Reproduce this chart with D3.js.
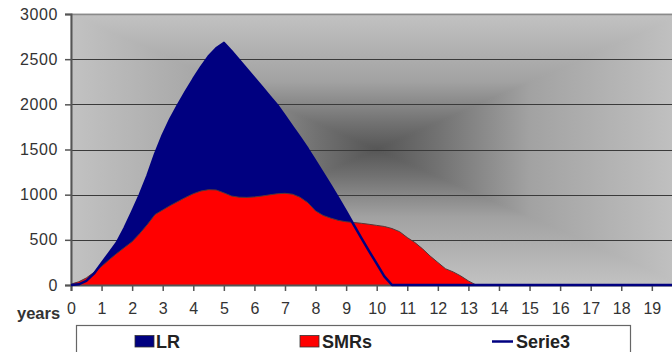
<!DOCTYPE html>
<html>
<head>
<meta charset="utf-8">
<script src="https://cdn.jsdelivr.net/npm/d3@7"></script>
<style>
  html, body { margin: 0; padding: 0; background: #ffffff; }
  svg { display: block; font-family: "Liberation Sans", Arial, sans-serif; }
</style>
</head>
<body>
<svg id="chart" width="672" height="352"></svg>
<script>
// Time in years for every data point
const years = [
  0, 0.25, 0.5, 0.75, 1, 1.25, 1.5, 1.75, 2, 2.25, 2.5, 2.75, 3, 3.25, 3.5, 3.75,
  4, 4.25, 4.5, 4.75, 5, 5.25, 5.5, 5.75, 6, 6.25, 6.5, 6.75, 7, 7.25, 7.5, 7.75,
  8, 8.25, 8.5, 8.75, 9, 9.25, 9.5, 9.75, 10, 10.25, 10.5, 10.75, 11, 11.25, 11.5, 11.75,
  12, 12.25, 12.5, 12.75, 13, 13.25, 13.5, 14, 15, 16, 17, 18, 19, 20];

// LR series (area, navy)
const lr = [
  0, 8, 45, 125, 240, 355, 470, 630, 810, 1000, 1210, 1450, 1660, 1840, 1995, 2140,
  2280, 2410, 2530, 2620, 2680, 2590, 2490, 2390, 2290, 2190, 2090, 1990, 1870, 1750, 1630, 1505,
  1370, 1235, 1100, 960, 815, 665, 520, 375, 236, 95, 0, 0, 0, 0, 0, 0,
  0, 0, 0, 0, 0, 0, 0, 0, 0, 0, 0, 0, 0, 0];

// SMRs series (area, red)
const smrs = [
  10, 35, 78, 140, 205, 280, 350, 415, 480, 570, 670, 780, 830, 880, 925, 970,
  1010, 1040, 1055, 1052, 1020, 985, 972, 970, 975, 985, 998, 1010, 1015, 1005, 970, 910,
  820, 770, 740, 715, 700, 692, 683, 672, 660, 648, 625, 590, 525, 470, 400, 320,
  250, 180, 145, 100, 45, 0, 0, 0, 0, 0, 0, 0, 0, 0];

// Serie3 series (line, navy)
const serie3 = [
  0, 8, 45, 125, 240, 355, 470, 630, 810, 1000, 1210, 1450, 1660, 1840, 1995, 2140,
  2280, 2410, 2530, 2620, 2680, 2590, 2490, 2390, 2290, 2190, 2090, 1990, 1870, 1750, 1630, 1505,
  1370, 1235, 1100, 960, 815, 665, 520, 375, 236, 95, 0, 0, 0, 0, 0, 0,
  0, 0, 0, 0, 0, 0, 0, 0, 0, 0, 0, 0, 0, 0];

// Axis ticks and labels
const xTickValues = [0, 1, 2, 3, 4, 5, 6, 7, 8, 9, 10, 11, 12, 13, 14, 15, 16, 17, 18, 19, 20];
const xTickLabels = ["0", "1", "2", "3", "4", "5", "6", "7", "8", "9", "10", "11", "12", "13", "14", "15", "16", "17", "18", "19"];
const yTickValues = [0, 500, 1000, 1500, 2000, 2500, 3000];

const seriesNames = ["LR", "SMRs", "Serie3"];
const colors = { LR: "#000080", SMRs: "#ff0000", Serie3: "#000080" };

const svg = d3.select("#chart");
const plotLeft = 71, plotTop = 14, plotBottom = 285, plotRight = 682.4;

const x = d3.scaleLinear().domain([0, 20]).range([plotLeft, plotRight]);
const y = d3.scaleLinear().domain([0, 3000]).range([plotBottom, plotTop]);

// Plot-area background: rectangular gradient, dark in the middle
const defs = svg.append("defs");
const cx = (plotLeft + plotRight) / 2, cy = (plotTop + plotBottom) / 2;
const gradStops = [[0, "#c2c2c2"], [0.5, "#a2a2a2"], [0.8, "#727272"], [1, "#565656"]];
function grad(id, x1, y1, x2, y2) {
  const g = defs.append("linearGradient").attr("id", id)
    .attr("gradientUnits", "userSpaceOnUse")
    .attr("x1", x1).attr("y1", y1).attr("x2", x2).attr("y2", y2);
  gradStops.forEach(s => g.append("stop").attr("offset", s[0]).attr("stop-color", s[1]));
}
grad("gTop", cx, plotTop, cx, cy);
grad("gBottom", cx, plotBottom, cx, cy);
grad("gLeft", plotLeft, cy, cx, cy);
grad("gRight", plotRight, cy, cx, cy);
const bg = svg.append("g");
[
  ["gTop", `M${plotLeft},${plotTop}L${plotRight},${plotTop}L${cx},${cy}Z`],
  ["gBottom", `M${plotLeft},${plotBottom}L${plotRight},${plotBottom}L${cx},${cy}Z`],
  ["gLeft", `M${plotLeft},${plotTop}L${plotLeft},${plotBottom}L${cx},${cy}Z`],
  ["gRight", `M${plotRight},${plotTop}L${plotRight},${plotBottom}L${cx},${cy}Z`]
].forEach(([id, d]) => {
  bg.append("path").attr("d", d).attr("fill", `url(#${id})`)
    .attr("stroke", `url(#${id})`).attr("stroke-width", 1.2).attr("stroke-linejoin", "bevel");
});

// Gridlines
svg.append("g").selectAll("line")
  .data(yTickValues.filter(v => v > 0 && v < 3000))
  .join("line")
  .attr("x1", plotLeft).attr("x2", plotRight)
  .attr("y1", d => Math.round(y(d)) + 0.5).attr("y2", d => Math.round(y(d)) + 0.5)
  .attr("stroke", "#3a3a3a").attr("stroke-width", 1.2);
svg.append("line")
  .attr("x1", plotLeft).attr("x2", plotRight)
  .attr("y1", y(3000) + 0.5).attr("y2", y(3000) + 0.5)
  .attr("stroke", "#8a8a8a").attr("stroke-width", 1.5);

// Areas
const idx = d3.range(years.length);
function areaFor(vals) {
  return d3.area().x(i => x(years[i])).y0(y(0)).y1(i => y(vals[i]))(idx);
}
function lineFor(vals) {
  return d3.line().x(i => x(years[i])).y(i => y(vals[i]))(idx);
}
svg.append("path").attr("d", areaFor(lr)).attr("fill", colors.LR);
svg.append("path").attr("d", areaFor(smrs)).attr("fill", colors.SMRs);
svg.append("path").attr("d", lineFor(smrs)).attr("fill", "none")
  .attr("stroke", "#553838").attr("stroke-width", 1);

// Y axis
const yAxis = d3.axisLeft(y).tickValues(yTickValues).tickSize(6).tickPadding(7).tickFormat(d3.format("d"));
const gy = svg.append("g").attr("transform", `translate(${plotLeft},0)`).call(yAxis);
gy.select(".domain").attr("stroke", "#555").attr("stroke-width", 2);
gy.selectAll(".tick line").attr("stroke", "#555").attr("stroke-width", 1.5);
gy.selectAll(".tick text").attr("font-size", 16).attr("fill", "#333")
  .attr("font-family", "Liberation Sans, Arial, sans-serif").attr("letter-spacing", "0.6px");

// X axis
const xAxis = d3.axisBottom(x).tickValues(xTickValues).tickSize(6).tickPadding(12)
  .tickFormat((d, i) => xTickLabels[i] !== undefined ? xTickLabels[i] : "");
const gx = svg.append("g").attr("transform", `translate(0,${plotBottom})`).call(xAxis);
gx.select(".domain").attr("stroke", "#555").attr("stroke-width", 2);
gx.selectAll(".tick line").attr("stroke", "#555").attr("stroke-width", 1.5);
gx.selectAll(".tick text").attr("font-size", 16).attr("fill", "#333")
  .attr("font-family", "Liberation Sans, Arial, sans-serif");

// Serie3 line on top
svg.append("path").attr("d", lineFor(serie3)).attr("fill", "none")
  .attr("stroke", colors.Serie3).attr("stroke-width", 2.5).attr("stroke-linejoin", "round");

// Axis title
svg.append("text").attr("x", 17).attr("y", 319)
  .attr("font-size", 16.5).attr("font-weight", "bold").attr("fill", "#333")
  .text("years");

// Legend
const lg = svg.append("g");
lg.append("rect").attr("x", 76.5).attr("y", 325.5).attr("width", 554).attr("height", 40)
  .attr("fill", "#ffffff").attr("stroke", "#666").attr("stroke-width", 1.2);
const legendItems = [
  { name: seriesNames[0], type: "box", sx: 135, tx: 156 },
  { name: seriesNames[1], type: "box", sx: 300, tx: 322 },
  { name: seriesNames[2], type: "line", sx: 492, tx: 516 }
];
legendItems.forEach(it => {
  if (it.type === "box") {
    lg.append("rect").attr("x", it.sx).attr("y", 335.5).attr("width", 19).attr("height", 11.5)
      .attr("fill", colors[it.name]).attr("stroke", "#333").attr("stroke-width", 0.8);
  } else {
    lg.append("line").attr("x1", it.sx).attr("x2", it.sx + 21).attr("y1", 341.5).attr("y2", 341.5)
      .attr("stroke", colors[it.name]).attr("stroke-width", 2.5);
  }
  lg.append("text").attr("x", it.tx).attr("y", 347.5)
    .attr("font-size", 18).attr("font-weight", "bold").attr("fill", "#222")
    .text(it.name);
});
</script>
</body>
</html>
